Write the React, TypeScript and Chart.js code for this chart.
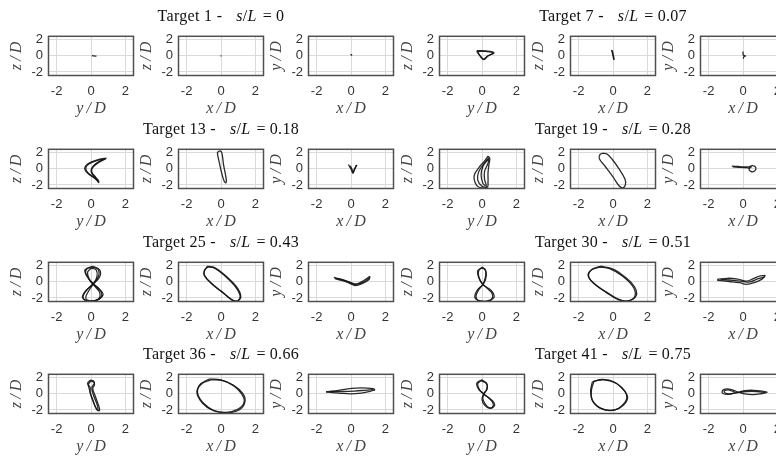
import React, { useEffect, useRef } from 'react';
import { Chart, registerables } from 'chart.js';
Chart.register(...registerables);

type Pt = [number, number];

// ---------- labels / ticks ----------
const TARGETS = ['1', '7', '13', '19', '25', '30', '36', '41'];
const S_OVER_L = ['0', '0.07', '0.18', '0.28', '0.43', '0.51', '0.66', '0.75'];
const X_LABELS = ['y\u2009/\u2009D', 'x\u2009/\u2009D', 'x\u2009/\u2009D'];
const Y_LABELS = ['z\u2009/\u2009D', 'z\u2009/\u2009D', 'y\u2009/\u2009D'];
const TICKS = [-2, 0, 2];
const AXIS_MIN = -2.5;
const AXIS_MAX = 2.5;

// ---------- trajectories (each panel = list of traces) ----------
// Target 1
const t1_zy: Pt[][] = [[[0.05, 0.03], [0.18, 0.0], [0.32, -0.03]]];
const t1_zx: Pt[][] = [[[-0.03, 0.0], [0.03, 0.0]]];
const t1_yx: Pt[][] = [[[-0.03, 0.18], [0.04, 0.12], [0.0, 0.05]]];
// Target 7
const t7_zy: Pt[][] = [
  [[-0.3, 0.65], [0.2, 0.62], [0.7, 0.4], [0.35, 0.0], [0.12, -0.45], [-0.05, -0.2], [-0.3, 0.65]],
  [[-0.25, 0.55], [0.25, 0.55], [0.65, 0.35], [0.3, -0.05], [0.1, -0.4], [-0.1, 0.0], [-0.3, 0.55]],
];
const t7_zx: Pt[][] = [
  [[-0.08, 0.75], [-0.02, 0.2], [0.05, -0.5]],
  [[-0.04, 0.7], [0.02, 0.1], [0.07, -0.45]],
];
const t7_yx: Pt[][] = [[[0.0, 0.55], [0.02, 0.1], [0.14, 0.0], [0.05, -0.1], [0.02, -0.35]]];
// Target 13
const t13_zy: Pt[][] = [
  [[0.9, 1.35], [0.5, 1.2], [0.0, 0.85], [-0.3, 0.4], [-0.35, -0.1], [-0.1, -0.7], [0.3, -1.3], [0.45, -1.7], [0.4, -1.35], [0.1, -0.7], [0.0, -0.2], [0.15, 0.4], [0.5, 0.95], [0.9, 1.35]],
  [[0.85, 1.25], [0.35, 1.05], [-0.1, 0.65], [-0.3, 0.15], [-0.2, -0.45], [0.15, -1.0], [0.4, -1.55], [0.25, -1.0], [0.05, -0.4], [0.1, 0.2], [0.45, 0.8], [0.85, 1.25]],
];
const t13_zx: Pt[][] = [
  [[-0.2, 2.1], [-0.05, 2.25], [0.05, 2.0], [0.15, 0.5], [0.3, -1.2], [0.3, -1.7], [0.2, -1.6], [0.05, -0.6], [-0.1, 0.8], [-0.2, 1.8], [-0.2, 2.1]],
];
const t13_yx: Pt[][] = [
  [[-0.15, 0.55], [0.0, 0.0], [0.12, -0.55], [0.2, 0.0], [0.35, 0.5]],
  [[-0.05, 0.4], [0.05, 0.0], [0.12, -0.4], [0.25, 0.1], [0.3, 0.45]],
];
// Target 19
const t19_zy: Pt[][] = [
  [[0.35, 1.6], [0.15, 1.0], [-0.2, 0.1], [-0.45, -0.8], [-0.4, -1.7], [-0.2, -2.25], [0.3, -2.3], [0.35, -1.6], [0.35, -0.5], [0.4, 0.5], [0.45, 1.3], [0.35, 1.6]],
  [[0.4, 1.4], [0.1, 0.6], [-0.2, -0.4], [-0.25, -1.4], [0.0, -2.15], [0.25, -2.2], [0.15, -1.3], [0.15, -0.3], [0.35, 0.7], [0.4, 1.4]],
  [[0.35, 1.2], [0.05, 0.3], [-0.05, -0.8], [0.05, -1.8], [0.2, -2.1]],
];
const t19_zx: Pt[][] = [
  [[-0.6, 1.95], [-0.35, 1.85], [-0.05, 1.2], [0.35, 0.0], [0.7, -1.3], [0.72, -2.0], [0.55, -2.35], [0.35, -2.1], [0.0, -1.0], [-0.45, 0.3], [-0.8, 1.3], [-0.75, 1.8], [-0.6, 1.95]],
];
const t19_yx: Pt[][] = [
  [[-0.65, 0.35], [-0.3, 0.3], [0.0, 0.25], [0.3, 0.25], [0.55, 0.4], [0.75, 0.15], [0.65, -0.3], [0.45, -0.3], [0.35, 0.0], [0.5, 0.3]],
  [[-0.6, 0.25], [-0.2, 0.2], [0.15, 0.15], [0.4, 0.1]],
];
// Target 25
const t25_zy: Pt[][] = [
  [[0.05, 1.85], [0.4, 1.6], [0.45, 0.8], [0.2, -0.1], [-0.2, -0.9], [-0.45, -1.7], [-0.35, -2.3], [0.1, -2.4], [0.55, -2.0], [0.6, -1.3], [0.3, -0.6], [-0.05, 0.2], [-0.3, 1.0], [-0.25, 1.6], [0.05, 1.85]],
  [[0.1, 1.95], [0.5, 1.5], [0.5, 0.6], [0.1, -0.3], [-0.3, -1.1], [-0.5, -1.9], [-0.2, -2.35], [0.3, -2.3], [0.7, -1.6], [0.5, -0.9], [0.05, -0.1], [-0.25, 0.8], [-0.35, 1.5], [0.1, 1.95]],
  [[0.0, 1.7], [0.3, 1.5], [0.35, 0.7], [0.15, -0.2], [-0.1, -1.0], [-0.3, -2.0], [0.0, -2.35], [0.45, -2.1], [0.5, -1.3], [0.2, -0.5], [-0.1, 0.3], [-0.2, 1.2], [0.0, 1.7]],
];
const t25_zx: Pt[][] = [
  [[-0.75, 1.85], [-0.4, 1.75], [0.2, 0.8], [0.8, -0.5], [1.1, -1.6], [1.0, -2.3], [0.7, -2.3], [0.2, -1.5], [-0.5, -0.3], [-0.95, 0.8], [-0.95, 1.5], [-0.75, 1.85]],
  [[-0.8, 1.95], [-0.3, 1.7], [0.3, 0.7], [0.9, -0.6], [1.15, -1.8], [0.95, -2.35], [0.6, -2.2], [0.1, -1.3], [-0.6, -0.1], [-1.0, 1.0], [-0.8, 1.95]],
];
const t25_yx: Pt[][] = [
  [[-1.0, 0.55], [-0.6, 0.35], [-0.2, 0.05], [0.2, -0.3], [0.6, 0.0], [1.1, 0.7]],
  [[-0.95, 0.4], [-0.5, 0.15], [-0.1, -0.15], [0.25, -0.45], [0.7, -0.15], [1.05, 0.3], [1.1, 0.7]],
  [[-0.9, 0.45], [-0.4, 0.2], [0.0, -0.1], [0.3, -0.3], [0.75, 0.0], [1.05, 0.5]],
];
// Target 30
const t30_zy: Pt[][] = [
  [[0.0, 1.85], [0.2, 1.5], [0.2, 0.6], [0.05, -0.3], [-0.2, -1.0], [-0.35, -1.8], [-0.2, -2.35], [0.3, -2.35], [0.7, -1.9], [0.55, -1.1], [0.1, -0.4], [-0.15, 0.4], [-0.2, 1.3], [0.0, 1.85]],
  [[-0.05, 1.7], [0.15, 1.6], [0.25, 0.8], [0.1, -0.2], [-0.3, -1.1], [-0.4, -2.0], [0.0, -2.4], [0.5, -2.3], [0.6, -1.5], [0.3, -0.8], [0.0, -0.2], [-0.2, 0.6], [-0.25, 1.4], [-0.05, 1.7]],
];
const t30_zx: Pt[][] = [
  [[-0.8, 1.85], [-0.2, 1.65], [0.5, 0.8], [1.1, -0.4], [1.3, -1.5], [1.05, -2.25], [0.5, -2.3], [-0.2, -1.5], [-1.0, -0.4], [-1.4, 0.6], [-1.3, 1.4], [-0.8, 1.85]],
  [[-0.7, 1.95], [0.0, 1.6], [0.7, 0.6], [1.25, -0.6], [1.35, -1.7], [0.9, -2.35], [0.3, -2.2], [-0.4, -1.3], [-1.1, -0.2], [-1.45, 0.8], [-1.2, 1.6], [-0.7, 1.95]],
];
const t30_yx: Pt[][] = [
  [[-1.5, 0.3], [-0.9, 0.45], [-0.3, 0.35], [0.2, 0.1], [0.6, 0.4], [1.0, 0.75], [1.3, 0.8]],
  [[-1.5, 0.2], [-0.8, 0.05], [-0.2, -0.1], [0.2, -0.3], [0.7, -0.05], [1.1, 0.35], [1.3, 0.8]],
  [[-1.3, 0.3], [-0.6, 0.2], [0.0, 0.05], [0.4, 0.0], [0.9, 0.4], [1.25, 0.6]],
];
// Target 36
const t36_zy: Pt[][] = [
  [[-0.05, 1.7], [0.15, 1.6], [0.2, 1.1], [0.1, 0.7], [0.25, -0.3], [0.45, -1.5], [0.5, -2.05], [0.35, -2.0], [0.15, -1.0], [-0.05, 0.2], [-0.05, 0.8], [-0.2, 1.3], [-0.05, 1.7]],
  [[0.0, 1.6], [0.2, 1.4], [0.05, 0.8], [0.15, -0.2], [0.35, -1.3], [0.4, -2.0], [0.25, -1.6], [0.05, -0.5], [-0.1, 0.6], [-0.15, 1.2], [0.0, 1.6]],
];
const t36_zx: Pt[][] = [
  [[-0.6, 1.75], [0.1, 1.65], [0.75, 1.0], [1.2, 0.0], [1.35, -1.0], [1.0, -1.9], [0.3, -2.3], [-0.5, -2.0], [-1.1, -1.1], [-1.4, 0.2], [-1.15, 1.2], [-0.6, 1.75]],
  [[-0.7, 1.85], [0.0, 1.75], [0.7, 1.1], [1.25, 0.1], [1.4, -0.9], [1.1, -1.95], [0.4, -2.35], [-0.4, -2.1], [-1.0, -1.2], [-1.35, 0.0], [-1.25, 1.1], [-0.7, 1.85]],
];
const t36_yx: Pt[][] = [
  [[-1.45, 0.25], [-0.8, 0.4], [-0.1, 0.65], [0.6, 0.75], [1.3, 0.65], [1.4, 0.5]],
  [[-1.45, 0.25], [-0.7, 0.1], [0.0, 0.0], [0.6, 0.1], [1.1, 0.3], [1.4, 0.5]],
  [[-1.2, 0.3], [-0.5, 0.3], [0.2, 0.35], [0.8, 0.45], [1.3, 0.55]],
];
// Target 41
const t41_zy: Pt[][] = [
  [[0.0, 1.75], [-0.3, 1.35], [-0.2, 0.6], [0.1, 0.0], [0.4, -0.5], [0.7, -1.1], [0.7, -1.55], [0.45, -1.8], [0.15, -1.4], [0.0, -0.7], [0.1, 0.0], [0.25, 0.5], [0.3, 1.2], [0.0, 1.75]],
  [[-0.05, 1.65], [-0.25, 1.25], [-0.15, 0.55], [0.12, -0.05], [0.45, -0.6], [0.65, -1.2], [0.6, -1.65], [0.4, -1.7], [0.2, -1.3], [0.05, -0.6], [0.12, 0.05], [0.3, 0.6], [0.25, 1.3], [-0.05, 1.65]],
];
const t41_zx: Pt[][] = [
  [[-1.2, 1.5], [-0.6, 1.8], [0.1, 1.45], [0.65, 0.4], [0.85, -0.5], [0.6, -1.4], [0.1, -2.0], [-0.6, -1.9], [-1.15, -1.0], [-1.3, 0.3], [-1.2, 1.5]],
  [[-1.1, 1.6], [-0.5, 1.75], [0.2, 1.3], [0.7, 0.3], [0.8, -0.6], [0.5, -1.5], [0.0, -2.05], [-0.7, -1.8], [-1.2, -0.8], [-1.25, 0.5], [-1.1, 1.6]],
];
const t41_yx: Pt[][] = [
  [[-0.4, 0.3], [-0.8, 0.6], [-1.15, 0.5], [-1.2, 0.1], [-0.9, -0.05], [-0.4, 0.15], [0.1, 0.4], [0.6, 0.45], [1.1, 0.35], [1.4, 0.2], [1.1, 0.05], [0.6, -0.1], [0.1, 0.0], [-0.4, 0.3]],
  [[-0.5, 0.25], [-0.9, 0.5], [-1.1, 0.3], [-0.9, 0.0], [-0.5, 0.1], [0.2, 0.3], [0.8, 0.3], [1.3, 0.15]],
];

// rows of 6 panels (two targets per row)
const ROWS: Pt[][][][] = [
  [t1_zy, t1_zx, t1_yx, t7_zy, t7_zx, t7_yx],
  [t13_zy, t13_zx, t13_yx, t19_zy, t19_zx, t19_yx],
  [t25_zy, t25_zx, t25_yx, t30_zy, t30_zx, t30_yx],
  [t36_zy, t36_zx, t36_yx, t41_zy, t41_zx, t41_yx],
];

// ---------- layout ----------
const COL_LEFT = [48, 178, 308, 439, 570, 700];
const ROW_TOP = [31, 144, 257, 369];
const BOX_W = 86;
const BOX_H = 45;
const Y_AXIS_W = 41;
const X_AXIS_H = 42;
const PAD_T = 8;
const PAD_R = 6;

const SERIF = '"Liberation Serif", "DejaVu Serif", serif';
const SANS = '"Liberation Sans", Arial, sans-serif';

const boxPlugin = {
  id: 'boxFrame',
  afterDraw(chart: any) {
    const { ctx, chartArea: a } = chart;
    ctx.save();
    ctx.strokeStyle = '#505050';
    ctx.lineWidth = 1.5;
    ctx.strokeRect(a.left + 0.5, a.top + 0.5, a.right - a.left - 1, a.bottom - a.top - 1);
    ctx.restore();
  },
};

function Panel({ left, top, traces, xLabel, yLabel }: { left: number; top: number; traces: Pt[][]; xLabel: string; yLabel: string }) {
  const ref = useRef<HTMLCanvasElement>(null);
  useEffect(() => {
    if (!ref.current) return;
    const setTicks = (ax: any) => {
      ax.ticks = TICKS.map((v) => ({ value: v }));
    };
    const chart = new Chart(ref.current, {
      type: 'scatter',
      data: {
        datasets: traces.map((t) => ({
          data: t.map(([x, y]) => ({ x, y })),
          showLine: true,
          pointRadius: 0,
          borderColor: 'rgba(20,20,20,0.9)',
          borderWidth: 1.3,
          tension: 0.4,
          fill: false,
        })),
      },
      options: {
        responsive: false,
        animation: false,
        events: [],
        layout: { padding: { top: PAD_T, right: PAD_R, left: 0, bottom: 0 } },
        plugins: { legend: { display: false }, tooltip: { enabled: false } },
        scales: {
          x: {
            type: 'linear',
            min: AXIS_MIN,
            max: AXIS_MAX,
            afterBuildTicks: setTicks,
            afterFit: (s: any) => {
              s.height = X_AXIS_H;
            },
            grid: { color: '#dadada', drawTicks: false },
            border: { display: false },
            ticks: { padding: 8, color: '#333', font: { family: SANS, size: 13 } },
            title: { display: true, text: xLabel, color: '#444', padding: 0, font: { family: SERIF, size: 16, style: 'italic' } },
          },
          y: {
            type: 'linear',
            min: AXIS_MIN,
            max: AXIS_MAX,
            afterBuildTicks: setTicks,
            afterFit: (s: any) => {
              s.width = Y_AXIS_W;
            },
            grid: { color: '#dadada', drawTicks: false },
            border: { display: false },
            ticks: { padding: 5, color: '#333', font: { family: SANS, size: 13 } },
            title: { display: true, text: yLabel, color: '#444', padding: 0, font: { family: SERIF, size: 16, style: 'italic' } },
          },
        },
      } as any,
      plugins: [boxPlugin],
    });
    return () => chart.destroy();
  }, []);
  const w = Y_AXIS_W + BOX_W + PAD_R;
  const h = PAD_T + BOX_H + X_AXIS_H;
  return (
    <canvas
      ref={ref}
      width={w}
      height={h}
      style={{ position: 'absolute', left: left - Y_AXIS_W, top: top - PAD_T, width: w, height: h }}
    />
  );
}

function Title({ idx, cx, boxTop }: { idx: number; cx: number; boxTop: number }) {
  return (
    <div
      style={{
        position: 'absolute',
        left: cx - 110,
        width: 220,
        top: boxTop - 23.5,
        height: 16,
        lineHeight: '16px',
        textAlign: 'center',
        fontFamily: SERIF,
        fontSize: 16,
        letterSpacing: '0.3px',
        color: '#111',
        whiteSpace: 'nowrap',
      }}
    >
      Target {TARGETS[idx]} -<span style={{ marginLeft: 14 }}><i>s</i></span>/<i>L</i>
      <span style={{ margin: '0 4px 0 6px' }}>=</span>
      {S_OVER_L[idx]}
    </div>
  );
}

export default function App() {
  const panels: React.ReactNode[] = [];
  const titles: React.ReactNode[] = [];
  ROWS.forEach((row, r) => {
    row.forEach((traces, c) => {
      panels.push(
        <Panel
          key={`p${r}-${c}`}
          left={COL_LEFT[c]}
          top={ROW_TOP[r]}
          traces={traces}
          xLabel={X_LABELS[c % 3]}
          yLabel={Y_LABELS[c % 3]}
        />
      );
    });
    titles.push(<Title key={`t${r}a`} idx={r * 2} cx={COL_LEFT[1] + BOX_W / 2} boxTop={ROW_TOP[r]} />);
    titles.push(<Title key={`t${r}b`} idx={r * 2 + 1} cx={COL_LEFT[4] + BOX_W / 2} boxTop={ROW_TOP[r]} />);
  });
  return (
    <div style={{ position: 'fixed', left: 0, top: 0, width: 776, height: 459, overflow: 'hidden', background: '#fff' }}>
      {panels}
      {titles}
    </div>
  );
}
